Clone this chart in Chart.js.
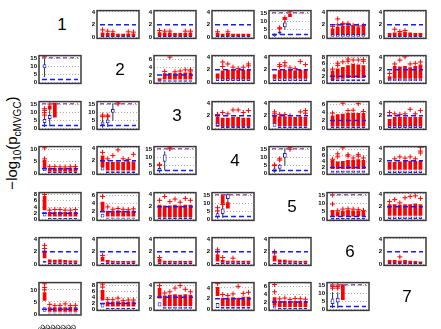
<!DOCTYPE html>
<html>
<head>
<meta charset="utf-8">
<script src="https://cdn.jsdelivr.net/npm/chart.js@4.4.1/dist/chart.umd.min.js"></script>
<style>
body{margin:0;background:#fff;width:441px;height:329px;position:relative;overflow:hidden;font-family:"Liberation Sans",Arial,sans-serif}
canvas{position:absolute}
.diag{position:absolute;font-size:17px;width:46px;height:37px;line-height:37px;text-align:center;color:#000}
#ylab{position:absolute;left:13px;top:143px;transform:translate(-50%,-50%) rotate(-90deg);font-size:15px;white-space:nowrap;color:#000}
#ylab sub{font-size:10px}
</style>
</head>
<body>
<div id="ylab">−log<sub>10</sub>(p<sub>cMVGC</sub>)</div>
<script>
const groups = ['100', '200', '500', '1000', '2000', '5000', '10000'];

// y axis top per panel (row, col); diagonal = null
const yMax = [
    [null, 4.2, 4.2, 4.2, 17, 4.2, 4.2],
    [17, null, 7, 4.2, 4.2, 8.6, 4.2],
    [17, 17, null, 4.2, 4.2, 6.6, 4.2],
    [11, 4.2, 17, null, 17, 9, 4.2],
    [8.6, 6.8, 4.2, 17, null, 17, 4.2],
    [4.2, 4.2, 4.2, 4.2, 4.2, null, 4.2],
    [13, 9, 4.4, 5, 7, 17, null]
];
const yStep = [
    [null, 2, 2, 2, 5, 2, 2],
    [5, null, 2, 2, 2, 2, 2],
    [5, 5, null, 2, 2, 2, 2],
    [5, 2, 5, null, 5, 2, 2],
    [2, 2, 2, 5, null, 5, 2],
    [2, 2, 2, 2, 2, null, 2],
    [5, 2, 2, 2, 2, 5, null]
];
const threshold = 2;
const ceiling = 15.6;

// dense red outlier columns [lo, hi] per group
const redBox = [
    [null,
     [[.2,.8],[.2,.7],[.2,.7],[.2,.6],[.2,.6],[.2,.65],[.2,.65]],
     [[.2,.85],[.2,.8],[.2,.8],[.2,.7],[.2,.7],[.2,.75],[.2,.8]],
     [[.2,.7],[.2,.6],[.2,.7],[.2,.6],[.2,.6],[.2,.6],[.2,.6]],
     [null,null,[11.6,12.6],[13,15],null,null,null],
     [[.3,1.4],[.3,1.7],[.3,1.8],[.3,1.8],[.3,1.8],[.3,1.6],[.3,1.8]],
     [[.2,.7],[.2,.8],[.2,.8],[.2,.9],[.2,.8],[.2,.7],[.2,.7]]],
    [[null,null,null,null,null,null,null],
     null,
     [[.5,1.1],[.8,2.4],[.8,2.5],[.8,2.4],[.8,2.5],[.8,2.6],[.8,2.6]],
     [[.6,1.4],[.5,1.9],[.5,2],[.5,2],[.5,2],[.5,2],[.5,2]],
     [[.6,1.3],[.6,2],[.6,2],[.6,2],[.6,1.9],[.6,2],[.6,2]],
     [[.8,3.8],[1.2,4.5],[1.2,5],[1.5,5.5],[1.5,6],[1.5,5.8],[1.5,5.5]],
     [[.5,1],[.6,2.6],[.6,2.5],[.6,2.6],[.6,2.4],[.6,2.6],[.6,2.8]]],
    [[null,[12,14.5],[7,16.3],null,null,null,null],
     [null,null,null,null,null,null,null],
     null,
     [[.3,1.8],[.3,1.7],[.3,1.7],[.3,1.8],[.3,1.8],[.3,1.7],[.3,1.7]],
     [[.7,2],[.4,1.9],[.4,1.9],[.4,1.8],[.4,1.8],[.4,1.9],[.4,1.8]],
     [[.5,3.2],[.5,3.5],[.5,3.6],[.5,3.8],[.5,3.8],[.5,3.8],[.5,3.8]],
     [[.3,1.5],[.3,1.8],[.3,1.8],[.3,1.8],[.3,1.8],[.3,1.8],[.3,1.8]]],
    [[[2,5.5],[.8,2.3],[.8,2.3],[.8,2.3],[.8,2.3],[.8,2.4],[.8,2.4]],
     [[1,2.8],[.5,1.8],[.5,1.8],[.5,1.9],[.5,1.8],[.5,1.9],[.5,1.9]],
     [null,null,null,null,null,null,null],
     null,
     [null,null,null,null,null,null,null],
     [[1.5,4.5],[1.5,4],[1.5,4.2],[1.5,4.5],[1.5,4.6],[1.5,4.8],[1.5,4.5]],
     [[.6,1.8],[.6,1.8],[.6,1.9],[.6,2],[.6,2],[.6,2],[.6,2]]],
    [[[3,7.5],[1,2.4],[1,2.4],[1,2.4],[1,2.4],[1,2.4],[1,2.4]],
     [[2,4.5],[.8,2.2],[.8,2.2],[.8,2.3],[.8,2.2],[.8,2.2],[.8,2.2]],
     [[.4,2.3],[.4,2.2],[.4,2.2],[.4,2.3],[.4,2.2],[.4,2.3],[.4,2.3]],
     [null,[10,16],[7,11],null,null,null,null],
     null,
     [[2,6],[2,5],[2,5.5],[2,6],[2,5.8],[2,5.8],[2,5.5]],
     [[.6,2.4],[.6,2.4],[.6,2.3],[.6,2.4],[.6,2.4],[.6,2.5],[.6,2.4]]],
    [[[1,2.2],[.3,.8],[.3,.75],[.3,.8],[.3,.7],[.3,.65],[.3,.65]],
     [[.5,1.2],[.3,.7],[.3,.6],[.3,.55],[.3,.55],[.3,.55],[.3,.6]],
     [[.3,.9],[.3,.6],[.3,.6],[.3,.55],[.3,.6],[.3,.55],[.3,.6]],
     [[.5,1.6],[.3,.7],[.3,.6],[.3,.6],[.3,.6],[.3,.6],[.3,.6]],
     [[.5,1.4],[.3,.8],[.3,.75],[.3,.65],[.3,.6],[.3,.55],[.3,.6]],
     null,
     [[.2,.7],[.2,.7],[.2,.65],[.2,.7],[.2,.6],[.2,.55],[.2,.5]]],
    [[[5.5,9],[1,2.8],[1,2.8],[1,2.8],[1,2.8],[1,2.9],[1,2.8]],
     [[3,6.5],[1,2.6],[1,2.6],[1,2.8],[1,2.6],[1,2.6],[1,2.7]],
     [[1.8,3.5],[.6,2.3],[.6,2.4],[.6,2.5],[.6,2.4],[.6,2.5],[.6,2.4]],
     [[2.5,4.2],[.6,2.2],[.6,2.2],[.6,2.3],[.6,2.2],[.6,2.4],[.6,2.4]],
     [[1,3.2],[.6,2.2],[.6,2.2],[.6,2.2],[.6,2.2],[.6,2.2],[.6,2.2]],
     [null,null,[6,16],null,null,null,null],
     null]
];

// sparse red '+' outliers: [group index, value]
const redPlus = [
    [null,
     [[0,1.2],[1,1],[2,.9],[5,.9],[6,.85]],
     [[0,1.1],[1,1],[2,1],[5,1],[6,1]],
     [[0,.9],[2,.9]],
     [[1,5.6],[1,6.2],[2,11.5],[2,12.5],[3,16.2]],
     [[0,1.7],[1,2],[1,2.9],[2,2],[2,2.2],[3,2.2],[4,1.9],[5,1.8],[6,1.9]],
     [[1,1.3],[2,.95],[3,1.1]]],
    [[[0,16.2]],
     null,
     [[1,2.9],[2,6.6],[3,2.8],[4,3],[5,3.3],[6,3],[6,3.3]],
     [[1,2.5],[1,3.2],[2,2.9],[3,2.4],[4,2.2],[5,2.4],[6,2.6],[6,2.9]],
     [[1,2.5],[1,2.8],[2,2.6],[2,3.1],[3,2.3],[4,2.2],[5,3.3],[6,2.8]],
     [[0,4.3],[1,5.5],[1,6.2],[2,6.6],[3,6.8],[3,7.5],[4,7.2],[5,7.2],[6,6.8],[6,7.3]],
     [[0,1.4],[1,2.9],[2,3.5],[3,4],[4,2.9],[5,3],[6,3.2]]],
    [[[0,8.5],[0,10],[0,11.5],[0,12.5],[1,15.5]],
     [[0,7.5],[0,8.5],[1,7.5],[1,8.4],[3,15.6],[3,16.1]],
     null,
     [[0,2.1],[0,2.2],[1,2.5],[2,2.3],[3,2.9],[4,2.9],[5,2.5],[6,2.8]],
     [[0,2.3],[0,2.6],[1,2.2],[2,2.2],[3,2],[5,2.6],[6,2.4],[6,2.8]],
     [[0,3.8],[2,6.2],[3,4.4],[4,4.5],[5,6.1],[6,4.2]],
     [[0,2.5],[1,2.3],[2,2.2],[3,2.3],[4,3],[5,2.3],[6,2.8]]],
    [[[0,6],[0,10.5],[1,2.8],[2,2.9],[3,2.7],[4,2.7],[5,2.8],[6,2.9]],
     [[0,3.3],[1,2.3],[2,2.8],[3,3.7],[4,2.3],[5,2.2],[6,3]],
     [[0,5.2],[0,5.8],[2,15.6],[2,16.2]],
     null,
     [[0,5],[0,5.5],[1,8.5],[1,9.3],[3,15.3],[3,16.3]],
     [[0,4.8],[1,5.6],[1,6.6],[2,8.6],[3,5.8],[3,6.3],[4,5.2],[5,5.8],[5,6.4],[6,5.2]],
     [[1,2.3],[2,2.6],[3,2.4],[4,2.6],[5,2.3],[6,3.2],[6,3.5],[6,4.1]]],
    [[[0,8],[1,3],[2,3.2],[3,3.2],[4,3],[5,3],[6,3.2]],
     [[0,5.8],[1,3.2],[2,2.6],[3,2.8],[4,2.6],[5,2.5],[6,2.7]],
     [[0,3],[1,3.6],[2,2.8],[3,3.2],[4,2.7],[5,3.3],[6,3]],
     [[0,5.5],[0,7.5],[1,9.5]],
     null,
     [[0,9.8],[0,15.5],[1,5.6],[2,6.6],[3,6.8],[4,6.6],[5,6.3],[6,5.8]],
     [[0,2.8],[1,3.1],[2,2.6],[3,3.4],[4,3.6],[5,3.7],[6,3.3]]],
    [[[0,2.5],[0,3]],
     [[0,1.4]],
     [[0,1.1]],
     [[0,2],[0,2.3],[1,1.1],[3,1]],
     [[0,1.8],[0,2]],
     null,
     [[2,1.2]]],
    [[[0,10],[0,11],[0,12.5],[1,4],[2,3.5],[3,3.6],[4,4.2],[5,3.5],[6,3.6]],
     [[0,7.5],[0,8.5],[1,3.4],[2,3.3],[3,3.8],[4,3],[5,3.2],[6,3.2]],
     [[0,3.9],[1,2.7],[2,2.9],[3,3.5],[4,3.9],[5,3.3],[6,2.9]],
     [[0,4.8],[1,2.8],[2,2.6],[3,2.9],[4,4.3],[5,3],[6,3.2]],
     [[0,4.6],[0,6.5],[1,2.8],[2,3],[3,2.6],[4,2.9],[5,2.8],[6,2.7]],
     [[0,13.5],[0,14.5],[0,15.5],[1,13.5],[1,14.5],[1,15.5]],
     null]
];

// blue boxes [q1, q3] per group
const blueBox = [
    [null,
     [[.05,.3],[.05,.3],[.05,.3],[.05,.3],[.05,.3],[.05,.3],[.05,.3]],
     [[.05,.3],[.05,.3],[.05,.3],[.05,.3],[.05,.3],[.05,.3],[.05,.3]],
     [[.05,.3],[.05,.3],[.05,.3],[.05,.3],[.05,.3],[.05,.3],[.05,.3]],
     [[.8,2.2],[2.5,3.8],[6.5,9.5],null,null,null,null],
     [[.15,.55],[.15,.55],[.15,.55],[.15,.55],[.15,.55],[.15,.55],[.15,.55]],
     [[.05,.3],[.05,.3],[.05,.3],[.05,.3],[.05,.3],[.05,.3],[.05,.3]]],
    [[[9,11.5],null,null,null,null,null,null],
     null,
     [[.2,.6],[.2,.6],[.2,.6],[.2,.6],[.2,.6],[.2,.6],[.2,.6]],
     [[.25,.65],[.25,.65],[.25,.65],[.25,.65],[.25,.65],[.25,.65],[.25,.65]],
     [[.25,.65],[.25,.65],[.25,.65],[.25,.65],[.25,.65],[.25,.65],[.25,.65]],
     [[.4,1.1],[.4,1.1],[.4,1.1],[.4,1.1],[.4,1.1],[.4,1.1],[.4,1.1]],
     [[.2,.6],[.2,.6],[.2,.6],[.2,.6],[.2,.6],[.2,.6],[.2,.6]]],
    [[[3.5,6],[6,8.5],null,null,null,null,null],
     [[2.4,4.5],[3.3,5.8],[9.9,12.4],null,null,null,null],
     null,
     [[.4,.9],[.1,.35],[.1,.35],[.1,.35],[.1,.35],[.1,.35],[.1,.35]],
     [[.3,.9],[.1,.35],[.1,.35],[.1,.35],[.1,.35],[.1,.35],[.1,.35]],
     [[.1,.5],[.1,.5],[.1,.5],[.1,.5],[.1,.5],[.1,.5],[.1,.5]],
     [[.1,.5],[.1,.5],[.1,.5],[.1,.5],[.1,.5],[.1,.5],[.1,.5]]],
    [[[1,2.5],[.2,.6],[.2,.6],[.2,.6],[.2,.6],[.2,.6],[.2,.6]],
     [[.5,1],[.1,.35],[.1,.35],[.1,.35],[.1,.35],[.1,.35],[.1,.35]],
     [[1.5,3.5],[7.5,12],null,null,null,null,null],
     null,
     [[1.2,3.2],[3,5.5],[10,13],null,null,null,null],
     [[.3,1],[.3,1],[.3,1],[.3,1],[.3,1],[.3,1],[.3,1]],
     [[.1,.5],[.1,.5],[.1,.5],[.1,.5],[.1,.5],[.1,.5],[.1,.5]]],
    [[[1,2.5],[.2,.5],[.2,.5],[.2,.5],[.2,.5],[.2,.5],[.2,.5]],
     [[.5,1.5],[.2,.5],[.2,.5],[.2,.5],[.2,.5],[.2,.5],[.2,.5]],
     [[.1,.35],[.1,.35],[.1,.35],[.1,.35],[.1,.35],[.1,.35],[.1,.35]],
     [[1.5,4],[3.5,7],[13,16],null,null,null,null],
     null,
     [[.1,1],[.1,1],[.1,1],[.1,1],[.1,1],[.1,1],[.1,1]],
     [[.1,.5],[.1,.5],[.1,.5],[.1,.5],[.1,.5],[.1,.5],[.1,.5]]],
    [[[.3,.6],[.05,.25],[.05,.25],[.05,.25],[.05,.25],[.05,.25],[.05,.25]],
     [[.05,.3],[.05,.3],[.05,.3],[.05,.3],[.05,.3],[.05,.3],[.05,.3]],
     [[.05,.3],[.05,.3],[.05,.3],[.05,.3],[.05,.3],[.05,.3],[.05,.3]],
     [[.05,.3],[.05,.3],[.05,.3],[.05,.3],[.05,.3],[.05,.3],[.05,.3]],
     [[.05,.3],[.05,.3],[.05,.3],[.05,.3],[.05,.3],[.05,.3],[.05,.3]],
     null,
     [[.05,.3],[.05,.3],[.05,.3],[.05,.3],[.05,.3],[.05,.3],[.05,.3]]],
    [[[1,2.8],[.2,.6],[.2,.6],[.2,.6],[.2,.6],[.2,.6],[.2,.6]],
     [[.7,2],[.2,.5],[.2,.5],[.2,.5],[.2,.5],[.2,.5],[.2,.5]],
     [[.5,1.2],[.15,.5],[.15,.5],[.15,.5],[.15,.5],[.15,.5],[.15,.5]],
     [[.3,1.2],[.15,.5],[.15,.5],[.15,.5],[.15,.5],[.15,.5],[.15,.5]],
     [[.3,1],[.1,.4],[.1,.4],[.1,.4],[.1,.4],[.1,.4],[.1,.4]],
     [[3.5,7],[4.5,7.5],null,null,null,null,null],
     null]
];

// blue whiskers [lo, hi] (only where visible)
const whisk = [
    [null, null, null, null, [[.5,2.5],[2,4.5],[5,10.5],null,null,null,null], null, null],
    [[[3.5,16],null,null,null,null,null,null], null, null, null, null, null, null],
    [[[1,9],[1.5,13],null,null,null,null,null], [[.5,6],[1,8],[5,16],null,null,null,null], null, null, null, null, null],
    [null, null, [[.5,4.5],[2,14],null,null,null,null,null], null, [[.5,4],[1,6],[5,16],null,null,null,null], null, null],
    [null, null, null, [[.5,5],[1,9],[8,16.5],null,null,null,null], null, null, null],
    [null, null, null, null, null, null, null],
    [null, null, null, null, null, [[1,11],[1,11],null,null,null,null,null], null]
];

const frame = {
    id: 'frame',
    afterDraw(chart) {
        const a = chart.chartArea, g = chart.ctx;
        g.save();
        g.strokeStyle = '#3a3a3a';
        g.lineWidth = 1.5;
        g.strokeRect(a.left, a.top, a.right - a.left, a.bottom - a.top);
        g.restore();
    }
};

function plotLeft(c) { return Math.round(39 + c * 57.5); }
function plotTop(r) { return Math.round(6 + r * 45.4); }

// group boxes -> {x, y:[lo,hi]} on a linear x axis (groups at 1..7)
function toBars(list) {
    const out = [];
    (list || []).forEach((v, i) => { if (v) out.push({x: i + 1, y: v}); });
    return out;
}

function makePanel(r, c) {
    const showX = (r === 6 && c === 0);
    const cv = document.createElement('canvas');
    cv.width = 58;
    cv.height = showX ? 56 : 39;
    cv.style.width = '58px';
    cv.style.height = cv.height + 'px';
    cv.style.left = (plotLeft(c) - 11) + 'px';
    cv.style.top = (plotTop(r) - 1) + 'px';
    document.body.appendChild(cv);

    const max = yMax[r][c];
    const step = yStep[r][c];
    const tickVals = [];
    for (let v = 0; v <= max + 1e-9; v += step) tickVals.push(v);

    const datasets = [{
        type: 'line',
        data: [{x: 0.5, y: threshold}, {x: 7.5, y: threshold}],
        borderColor: '#1a1aff', borderWidth: 1.5, borderDash: [5, 3], pointRadius: 0
    }];
    if (max > 15) {
        datasets.push({
            type: 'line',
            data: [{x: 0.5, y: ceiling}, {x: 7.5, y: ceiling}],
            borderColor: '#9a5ca8', borderWidth: 1.5, borderDash: [4, 3], pointRadius: 0
        });
    }
    datasets.push({
        type: 'line', showLine: false,
        data: redPlus[r][c].map(p => ({x: p[0] + 1, y: p[1]})),
        pointStyle: 'cross', pointRadius: 2.5, borderColor: '#ff0000', borderWidth: 1
    });
    datasets.push({
        type: 'bar', data: toBars(blueBox[r][c]), grouped: false, maxBarThickness: 4,
        backgroundColor: '#ffffff', borderColor: '#2222cc', borderWidth: 1, borderSkipped: false
    });
    datasets.push({
        type: 'bar', data: toBars(redBox[r][c]), grouped: false, maxBarThickness: 4,
        backgroundColor: '#ff0000', borderWidth: 0
    });
    if (whisk[r][c]) {
        datasets.push({
            type: 'bar', data: toBars(whisk[r][c]), grouped: false, maxBarThickness: 1,
            backgroundColor: '#333333', borderWidth: 0
        });
    }

    new Chart(cv, {
        type: 'bar',
        data: {datasets: datasets},
        options: {
            responsive: false,
            maintainAspectRatio: false,
            animation: false,
            devicePixelRatio: 1,
            layout: {padding: {top: 1, right: 1, bottom: showX ? 0 : 1, left: 0}},
            plugins: {legend: {display: false}, tooltip: {enabled: false}},
            scales: {
                x: {
                    type: 'linear', min: 0.5, max: 7.5, display: showX,
                    grid: {display: false}, border: {display: false},
                    afterBuildTicks: s => { s.ticks = groups.map((g, i) => ({value: i + 1})); },
                    ticks: {
                        font: {size: 7, family: 'Liberation Sans'}, color: '#000',
                        maxRotation: 45, minRotation: 45, padding: 0, autoSkip: false,
                        callback: (v, i) => groups[i]
                    },
                    afterFit: s => { if (showX) s.height = 18; }
                },
                y: {
                    min: -max * 0.03, max: max,
                    afterBuildTicks: s => { s.ticks = tickVals.map(v => ({value: v})); },
                    afterFit: s => { s.width = 11; },
                    ticks: {font: {size: 6, family: 'Liberation Sans', weight: 'bold'}, color: '#000', padding: 2, autoSkip: false},
                    grid: {
                        color: ctx => (ctx.tick && ctx.tick.value === threshold) ? 'rgba(0,0,0,0)' : '#999',
                        lineWidth: 0.8, drawTicks: false
                    },
                    border: {display: false, dash: [1, 2]}
                }
            }
        },
        plugins: [frame]
    });
}

for (let r = 0; r < 7; r++) {
    for (let c = 0; c < 7; c++) {
        if (r === c) {
            const d = document.createElement('div');
            d.className = 'diag';
            d.style.left = plotLeft(c) + 'px';
            d.style.top = plotTop(r) + 'px';
            d.textContent = String(r + 1);
            document.body.appendChild(d);
        } else {
            makePanel(r, c);
        }
    }
}
</script>
</body>
</html>
